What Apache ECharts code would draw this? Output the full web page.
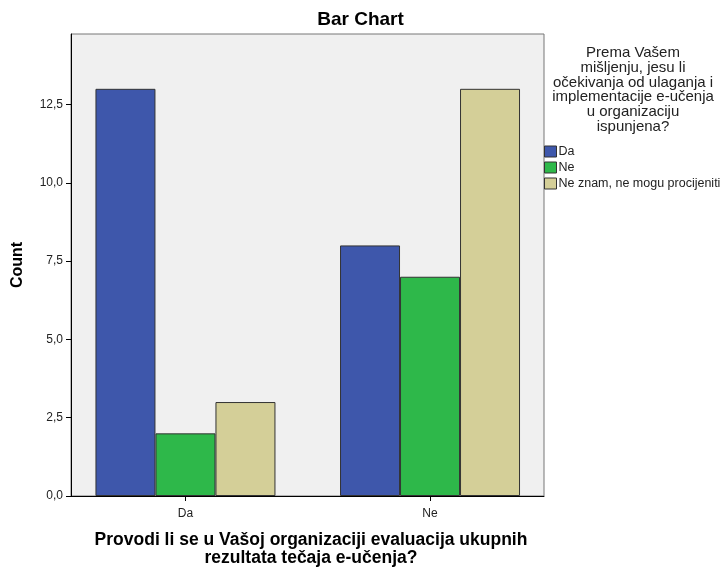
<!DOCTYPE html>
<html><head><meta charset="utf-8">
<script src="https://cdn.jsdelivr.net/npm/echarts@6/dist/echarts.min.js"></script>
<style>html,body{margin:0;padding:0;background:#fff}#c{width:721px;height:567px}</style>
</head><body><div id="c"></div>
<script>
const categories = ['Da', 'Ne'];
const seriesNames = ['Da', 'Ne', 'Ne znam, ne mogu procijeniti'];
const valuesDa = [13, 8];
const valuesNe = [2, 7];
const valuesNeZnam = [3, 13];
const yTicks = [0, 2.5, 5, 7.5, 10, 12.5];
const colors = ['#3e57ab', '#2eb84a', '#d4cf98'];

const chart = echarts.init(document.getElementById('c'));
const allValues = [valuesDa, valuesNe, valuesNeZnam];
const fontA = 'Liberation Sans, Arial, sans-serif';
chart.setOption({
  animation: false,
  title: [
    { text: 'Bar Chart', left: 360.5, top: 10, textAlign: 'center', padding: 0,
      textStyle: { fontFamily: fontA, fontSize: 19, fontWeight: 'bold', color: '#000' } },
    { text: 'Prema Vašem\nmišljenju, jesu li\nočekivanja od ulaganja i\nimplementacije e-učenja\nu organizaciju\nispunjena?',
      left: 633, top: 45.5, textAlign: 'center', padding: 0,
      textStyle: { fontFamily: fontA, fontSize: 15, fontWeight: 'normal', color: '#222', lineHeight: 14.8, align: 'center' } }
  ],
  legend: {
    orient: 'vertical', left: 544, top: 145, padding: 0,
    itemWidth: 12, itemHeight: 11, itemGap: 3, icon: 'rect',
    data: seriesNames,
    textStyle: { fontFamily: fontA, fontSize: 12.5, lineHeight: 13, color: '#222', padding: [0,0,0,-3] },
    itemStyle: { borderColor: '#333', borderWidth: 1 }
  },
  grid: { left: 71, top: 34, width: 473, height: 462, show: true, outerBoundsMode: 'none', containLabel: false,
    backgroundColor: '#f0f0f0', borderColor: '#777', borderWidth: 1 },
  xAxis: {
    type: 'value', min: -0.468, max: 1.466,
    name: 'Provodi li se u Vašoj organizaciji evaluacija ukupnih\nrezultata tečaja e-učenja?',
    nameLocation: 'middle', nameGap: 35,
    nameTextStyle: { fontFamily: fontA, fontSize: 17.5, fontWeight: 'bold', color: '#000', lineHeight: 18.3, padding: [0, 0, 0, 7] },
    axisLine: { show: true, onZero: false, lineStyle: { color: '#000', width: 1 } },
    axisTick: { show: true, customValues: [0, 1], length: 5, lineStyle: { color: '#000' } },
    axisLabel: { customValues: [0, 1], margin: 12, formatter: v => categories[Math.round(v)],
      fontFamily: fontA, fontSize: 12, color: '#222' },
    splitLine: { show: false }
  },
  yAxis: {
    type: 'value', min: 0, max: 14.75,
    name: 'Count', nameLocation: 'middle', nameGap: 45,
    nameTextStyle: { fontFamily: fontA, fontSize: 16, fontWeight: 'bold', color: '#000' },
    axisLine: { show: true, onZero: false, lineStyle: { color: '#000', width: 1 } },
    axisTick: { show: true, customValues: yTicks, length: 5, lineStyle: { color: '#000' } },
    axisLabel: { customValues: yTicks, margin: 8, formatter: v => v.toFixed(1).replace('.', ','),
      fontFamily: fontA, fontSize: 12, color: '#222' },
    splitLine: { show: false }
  },
  series: seriesNames.map((n, i) => ({
    name: n, type: 'bar', barWidth: 60, barGap: '0%',
    itemStyle: { color: colors[i], borderColor: '#333', borderWidth: 1 },
    data: allValues[i].map((v, j) => [j, v])
  }))
});
</script></body></html>
